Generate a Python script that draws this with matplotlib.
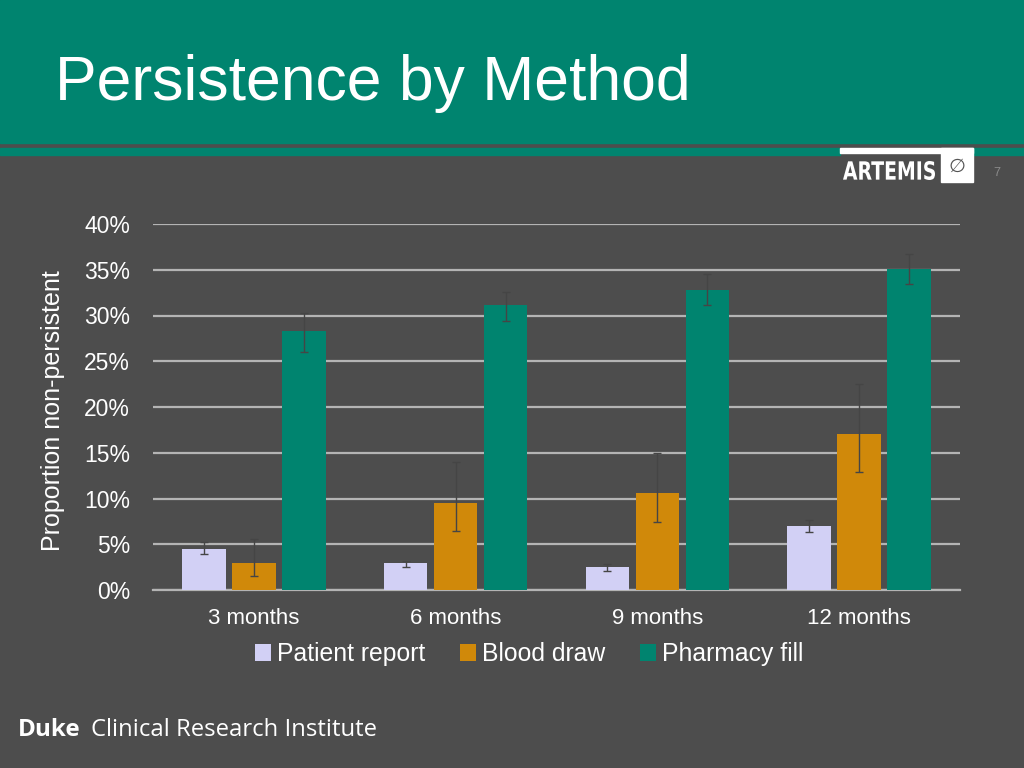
import numpy as np
import matplotlib
matplotlib.use('Agg')
import matplotlib.pyplot as plt
from matplotlib.patches import Rectangle, PathPatch
from matplotlib.textpath import TextPath
from matplotlib.font_manager import FontProperties
from matplotlib.transforms import Affine2D

plt.rcParams['font.family'] = ['Liberation Sans', 'DejaVu Sans']

# data (percent)
periods = ['3 months', '6 months', '9 months', '12 months']
methods = ['Patient report', 'Blood draw', 'Pharmacy fill']
patient = [4.5, 2.9, 2.55, 7.0]
patient_lo = [3.9, 2.5, 2.1, 6.3]
patient_hi = [5.3, 3.2, 2.8, 7.7]
blood = [2.9, 9.5, 10.6, 17.1]
blood_lo = [1.5, 6.4, 7.4, 12.9]
blood_hi = [5.6, 14.0, 15.0, 22.5]
pharmacy = [28.3, 31.1, 32.8, 35.1]
pharmacy_lo = [26.0, 29.4, 31.1, 33.4]
pharmacy_hi = [30.3, 32.6, 34.5, 36.7]

bg = '#4d4d4d'
teal = '#00846f'
colors = ['#d2d0f5', '#d0890a', teal]

W, H = 1024, 768
fig = plt.figure(figsize=(W/100, H/100), dpi=100, facecolor=bg)

# title band and stripes
fig.patches.append(Rectangle((0, 1-143/H), 1, 143/H, transform=fig.transFigure, color=teal, zorder=0))
fig.patches.append(Rectangle((0, 1-155/H), 840/W, 7/H, transform=fig.transFigure, color=teal, zorder=0))
fig.patches.append(Rectangle((973/W, 1-155/H), 1-973/W, 7/H, transform=fig.transFigure, color=teal, zorder=0))
fig.text(55/W, 1-100/H, 'Persistence by Method', color='white', fontsize=45, ha='left', va='baseline')

# ARTEMIS logo, squeezed bold text
fig.patches.append(Rectangle((840/W, 1-153/H), 133/W, 5/H, transform=fig.transFigure, color='white', zorder=1))
fig.patches.append(Rectangle((941/W, 1-182/H), 32/W, 34/H, transform=fig.transFigure, color='white', zorder=1))
tp = TextPath((0, 0), 'ARTEMIS', size=10, prop=FontProperties(family='DejaVu Sans', weight='bold'))
ext = tp.get_extents()
sx = (935 - 843) / ext.width
sy = (180 - 161) / ext.height
tr = Affine2D().translate(-ext.x0, -ext.y0).scale(sx / W, sy / H).translate(843 / W, 1 - 180 / H) + fig.transFigure
fig.patches.append(PathPatch(tp, transform=tr, facecolor='white', edgecolor='none', zorder=2))
fig.text(957/W, 1-166/H, '\u2205', color='#555555', fontsize=14, ha='center', va='center',
         family=['DejaVu Sans'])
fig.text(997/W, 1-173/H, '7', color='#8a8a8a', fontsize=9, ha='center', va='center')

# footer
fig.text(18/W, 1-730/H, 'Duke', color='white', fontsize=17.5, fontweight='bold',
         family=['Open Sans', 'DejaVu Sans'], ha='left', va='center')
fig.text(91/W, 1-730/H, 'Clinical Research Institute', color='white', fontsize=17.2,
         family=['Open Sans', 'DejaVu Sans'], ha='left', va='center')

ax = fig.add_axes([153/W, 1-590/H, (960-153)/W, (590-224)/H])
ax.set_facecolor(bg)

x = np.arange(len(periods))
width = 0.215
step = 0.248
series = [(patient, patient_lo, patient_hi), (blood, blood_lo, blood_hi), (pharmacy, pharmacy_lo, pharmacy_hi)]
for i, (vals, lo, hi) in enumerate(series):
    vals = np.array(vals)
    yerr = [vals - np.array(lo), np.array(hi) - vals]
    ax.bar(x + (i-1)*step, vals, width, color=colors[i], label=methods[i], zorder=3)
    ax.errorbar(x + (i-1)*step, vals, yerr=yerr, fmt='none', ecolor='#454545',
                elinewidth=1, capsize=3, capthick=1, zorder=4)

ax.set_xlim(-0.5, 3.5)
ax.set_ylim(0, 40)
ax.set_yticks(range(0, 41, 5))
ax.set_yticklabels(['%d%%' % v for v in range(0, 41, 5)])
ax.yaxis.grid(True, color='#b4b4b4', lw=1.6, zorder=0)
ax.set_axisbelow(True)
ax.set_xticks(x)
ax.set_xticklabels(periods)
for s in ['top', 'right', 'left']:
    ax.spines[s].set_visible(False)
ax.spines['bottom'].set_color('#b4b4b4')
ax.spines['bottom'].set_linewidth(1.6)
ax.tick_params(axis='both', length=0, colors='white')
ax.tick_params(axis='y', pad=16.5, labelsize=16.5)
ax.tick_params(axis='x', pad=13, labelsize=16)
ax.set_ylabel('Proportion non-persistent', color='white', fontsize=18)
ax.yaxis.set_label_coords((65 - 153) / (960 - 153), 0.49)

leg = fig.legend(loc='center', bbox_to_anchor=(529/W, 1-654/H), ncol=3, frameon=False,
                 fontsize=17.8, handlelength=0.65, handleheight=0.65, handletextpad=0.25,
                 columnspacing=1.4)
for t in leg.get_texts():
    t.set_color('white')

fig.savefig('out.png', dpi=100, facecolor=bg)
